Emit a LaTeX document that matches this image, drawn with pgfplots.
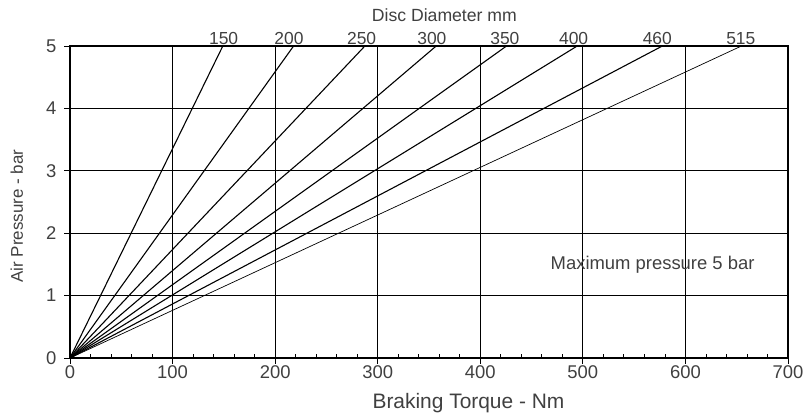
\documentclass[border=0pt]{standalone}
\usepackage{fontspec}
\setmainfont{Liberation Sans}
\usepackage{pgfplots}
\pgfplotsset{compat=1.18}
\definecolor{txt}{HTML}{404040}

\begin{document}
\begin{tikzpicture}
\begin{axis}[
    at={(0,0)}, anchor=south west,
    scale only axis,
    width=718bp, height=312bp,
    xmin=0, xmax=700, ymin=0, ymax=5,
    xtick={0,100,...,700},
    ytick={0,1,...,5},
    minor x tick num=4,
    tick align=inside,
    major tick length=-6bp,
    minor tick length=4bp,
    xtick pos=bottom, ytick pos=left,
    grid=major,
    major grid style={black, line width=0.8bp},
    axis line style={black, line width=1.6bp},
    tick style={black, line width=0.8bp},
    ticklabel style={font=\fontsize{18.5}{20}\selectfont, text=txt},
    xticklabel style={yshift=-4bp},
    yticklabel style={xshift=-10bp},
    /pgf/number format/assume math mode=true,
    xlabel={Braking Torque - Nm},
    ylabel={Air Pressure - bar},
    xlabel style={font=\fontsize{21}{23}\selectfont, text=txt,
        at={(axis description cs:0.555,-0.144)}, anchor=center},
    ylabel style={font=\fontsize{17}{19}\selectfont, text=txt,
        at={(axis description cs:-0.074,0.455)}, anchor=center},
    clip=false,
]
\addplot[black, line width=1.1bp] coordinates {(0,0) (149,5)};
\addplot[black, line width=1.1bp] coordinates {(0,0) (218,5)};
\addplot[black, line width=1.1bp] coordinates {(0,0) (287.5,5)};
\addplot[black, line width=1.1bp] coordinates {(0,0) (357,5)};
\addplot[black, line width=1.1bp] coordinates {(0,0) (425.6,5)};
\addplot[black, line width=1.1bp] coordinates {(0,0) (494.5,5)};
\addplot[black, line width=1.1bp] coordinates {(0,0) (577.5,5)};
\addplot[black, line width=0.7bp] coordinates {(0,0) (654.6,5)};

\begin{scope}[every node/.style={anchor=base, inner sep=0pt, yshift=2bp, text=txt, font=\fontsize{17.5}{19}\selectfont}]
\node at (axis cs:149.8,5) {150};
\node at (axis cs:213.5,5) {200};
\node at (axis cs:284.3,5) {250};
\node at (axis cs:352.8,5) {300};
\node at (axis cs:424,5) {350};
\node at (axis cs:491,5) {400};
\node at (axis cs:572.6,5) {460};
\node at (axis cs:654,5) {515};
\end{scope}
\node[anchor=center, text=txt, font=\fontsize{17.7}{19}\selectfont, inner sep=0pt] at (axis cs:365,5.5) {Disc Diameter mm};
\node[text=txt, font=\fontsize{18.5}{20}\selectfont] at (axis cs:568,1.49) {Maximum pressure 5 bar};
\end{axis}
\pgfresetboundingbox
\path (-70bp,-59bp) rectangle (742bp,358bp);
\end{tikzpicture}
\end{document}
